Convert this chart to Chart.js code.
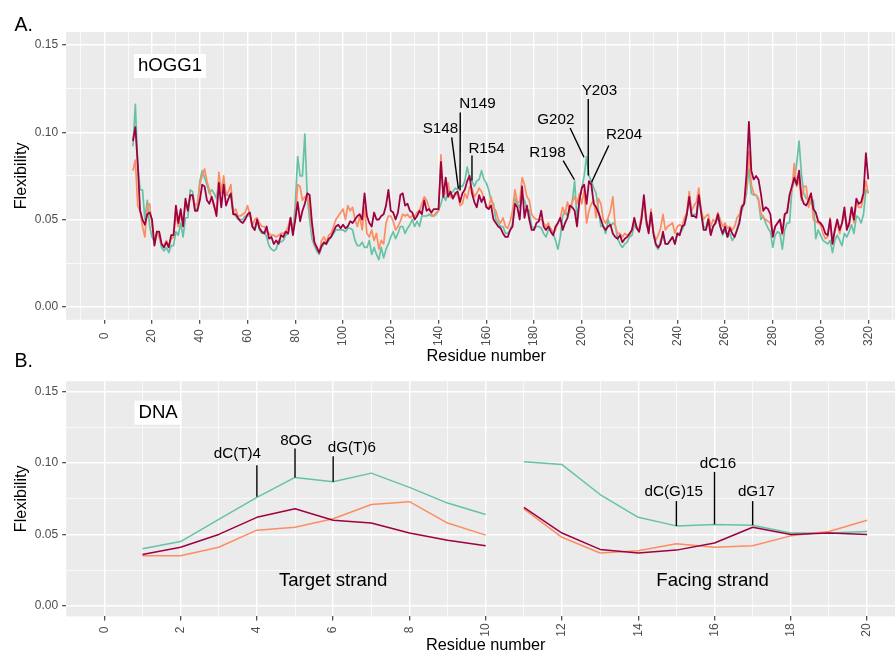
<!DOCTYPE html>
<html>
<head>
<meta charset="utf-8">
<script src="https://cdn.jsdelivr.net/npm/chart.js@4.4.0/dist/chart.umd.min.js"></script>
<style>
  html, body { margin: 0; padding: 0; background: #ffffff; overflow: hidden; }
  #wrap { position: relative; width: 895px; height: 653px; overflow: hidden; background: #ffffff; }
  canvas { position: absolute; left: 0; }
</style>
</head>
<body>
<div id="wrap">
  <canvas id="panelA" width="910" height="370" style="top:0px"></canvas>
  <canvas id="panelB" width="910" height="283" style="top:370px"></canvas>
</div>
<script>
// ---------------- DATA ----------------
// Panel A: hOGG1 residues 12..320
const firstResidue = 12;
const lastResidue = 320;
const residues = Array.from({ length: lastResidue - firstResidue + 1 }, (_, i) => firstResidue + i);

const proteinTeal = [
  0.092,0.116,0.082,0.067,0.067,0.050,0.061,0.046,0.040,0.037,0.043,0.040,0.034,0.032,0.034,0.031,0.035,0.035,0.043,0.041,0.048,0.040,0.051,0.051,0.067,0.066,0.056,0.056,0.072,0.078,0.074,0.070,0.065,
  0.067,0.065,0.062,0.072,0.068,0.073,0.064,0.064,0.064,0.054, 0.052,0.050,0.050,0.050,0.052,0.052,0.053,0.046,0.044,0.049,
  0.044,0.042,0.043,0.040,0.035,0.033,0.032,0.033,0.038,0.037, 0.038,0.041,0.042,0.050,0.042,0.059,0.086,0.075,0.075,0.099,
  0.063,0.050,0.039,0.035,0.032,0.030,0.034,0.036,0.036,0.038, 0.040,0.042,0.044,0.044,0.044,0.044,0.043,0.045,
  0.045,0.044,0.038,0.035,0.035,0.037,0.034,0.034,0.038,0.030, 0.034,0.030,0.027,0.034,0.028,0.033,0.036,0.040,0.043,0.039,
  0.042,0.046,0.046,0.042,0.045,0.047,0.050,0.046,0.049,0.046, 0.052,0.052,0.052,0.053,0.052,0.052,0.053,0.055,0.059,0.064,
  0.061,0.067,0.065,0.066,0.068,0.067,0.069,0.069,0.072,0.080, 0.074,0.072,0.069,0.072,0.073,0.078,0.073,0.071,0.067,
  0.061,0.059,0.050,0.048,0.046,0.046,0.042,0.042,0.044,0.048, 0.062,0.059,0.057,0.064,0.061,0.056,0.055,0.046,0.045,0.046,
  0.046,0.045,0.042,0.040,0.044,0.045,0.042,0.038,0.033,0.040, 0.052,0.055,0.052,0.055,0.060,0.072,0.050,0.061,0.068,0.075,
  0.086,0.075,0.072,0.068,0.065,0.055,0.046,0.046,0.042,0.050, 0.046,0.048,0.047,0.039,0.036,0.034,0.036,0.037,
  0.040,0.041,0.047,0.045,0.043,0.051,0.061,0.047,0.043,0.053, 0.042,0.035,0.033,0.038,0.041,0.036,0.036,0.038,0.040,0.036,
  0.042,0.042,0.044,0.047,0.053,0.064,0.053,0.053,0.053,0.065, 0.055,0.046,0.045,0.051,0.042,0.046,0.048,0.051,0.046,0.041,
  0.044,0.040,0.042,0.038,0.040,0.044,0.050,0.055,0.059,0.065, 0.079,0.065,0.064,0.064,0.061,0.050,0.052,0.048,0.045,0.043,
  0.034,0.041,0.043,0.042,0.033,0.044,0.048,0.048,0.067,0.072, 0.082,0.095,0.076,0.065,0.062,0.062,0.059,0.061,0.039,0.044,
  0.041,0.038,0.037,0.036,0.038,0.031,0.038,0.041,0.038,0.035, 0.042,0.040,0.043,0.047,0.042,0.052,0.051,0.048,0.053,0.067,0.065
];

const proteinOrange = [
  0.078,0.084,0.058,0.055,0.046,0.040,0.058,0.059,0.046,0.036,0.042,0.040,0.036,0.035,0.038,0.035,0.039,0.040,0.053,0.046,0.053,0.048,0.059,0.056,0.063,0.064,0.058,0.059,0.070,0.075,0.079,0.072,0.067,
  0.062,0.057,0.055,0.077,0.065,0.075,0.064,0.066,0.070,0.054, 0.056,0.052,0.052,0.053,0.054,0.058,0.052,0.046,0.050,0.051,
  0.048,0.046,0.046,0.043,0.042,0.041,0.041,0.040,0.041,0.042, 0.042,0.043,0.046,0.051,0.044,0.050,0.070,0.069,0.061,0.063,
  0.064,0.056,0.045,0.036,0.034,0.031,0.038,0.040,0.037,0.041, 0.042,0.046,0.050,0.052,0.054,0.056,0.050,0.058,
  0.055,0.057,0.050,0.046,0.052,0.044,0.057,0.042,0.040,0.044, 0.038,0.042,0.033,0.038,0.036,0.048,0.052,0.052,0.049,0.044,
  0.046,0.049,0.053,0.052,0.053,0.051,0.052,0.052,0.054,0.055, 0.059,0.063,0.061,0.057,0.053,0.052,0.054,0.055,0.087,0.064,
  0.065,0.071,0.063,0.062,0.064,0.065,0.058,0.059,0.065,0.062, 0.069,0.068,0.063,0.065,0.068,0.066,0.062,0.058,0.056,
  0.063,0.057,0.055,0.050,0.048,0.051,0.046,0.045,0.049,0.055, 0.067,0.060,0.060,0.074,0.070,0.063,0.061,0.053,0.051,0.050,
  0.050,0.050,0.048,0.046,0.048,0.044,0.042,0.044,0.048,0.051, 0.057,0.053,0.060,0.055,0.060,0.063,0.059,0.065,0.059,0.067,
  0.048,0.055,0.059,0.061,0.051,0.062,0.059,0.050,0.048,0.051, 0.055,0.063,0.046,0.042,0.042,0.040,0.042,0.041,
  0.041,0.044,0.049,0.046,0.044,0.053,0.060,0.048,0.044,0.056, 0.043,0.038,0.041,0.045,0.053,0.044,0.046,0.047,0.048,0.042,
  0.046,0.047,0.046,0.051,0.054,0.066,0.055,0.058,0.060,0.068, 0.055,0.050,0.052,0.053,0.046,0.050,0.048,0.054,0.050,0.046,
  0.048,0.045,0.046,0.044,0.046,0.051,0.053,0.058,0.059,0.068, 0.089,0.070,0.065,0.064,0.062,0.054,0.051,0.050,0.049,0.048,
  0.042,0.046,0.048,0.050,0.041,0.053,0.055,0.063,0.067,0.082, 0.069,0.073,0.061,0.069,0.069,0.057,0.065,0.050,0.049,0.048,
  0.047,0.042,0.039,0.040,0.051,0.036,0.044,0.048,0.042,0.048, 0.053,0.048,0.046,0.057,0.048,0.060,0.057,0.057,0.063,0.072,0.065
];

const proteinCrimson = [
  0.095,0.103,0.082,0.055,0.050,0.047,0.053,0.054,0.050,0.035,0.043,0.043,0.036,0.034,0.037,0.034,0.041,0.041,0.058,0.048,0.056,0.046,0.062,0.055,0.064,0.064,0.055,0.055,0.061,0.070,0.069,0.061,0.059,
  0.063,0.058,0.052,0.071,0.057,0.070,0.058,0.062,0.065,0.053, 0.053,0.051,0.049,0.048,0.050,0.053,0.054,0.046,0.044,0.050,
  0.045,0.043,0.042,0.046,0.039,0.040,0.036,0.038,0.036,0.041, 0.040,0.043,0.042,0.051,0.041,0.050,0.060,0.049,0.055,0.059,
  0.065,0.064,0.048,0.037,0.034,0.031,0.035,0.037,0.036,0.039, 0.040,0.043,0.046,0.047,0.045,0.047,0.045,0.046,
  0.049,0.048,0.050,0.052,0.053,0.050,0.065,0.052,0.048,0.046, 0.054,0.050,0.050,0.052,0.053,0.058,0.067,0.055,0.054,0.050,
  0.054,0.064,0.065,0.058,0.059,0.055,0.054,0.050,0.052,0.055, 0.053,0.061,0.055,0.056,0.054,0.056,0.056,0.056,0.083,0.063,
  0.074,0.063,0.066,0.062,0.065,0.066,0.060,0.065,0.067,0.072, 0.075,0.065,0.060,0.057,0.064,0.060,0.063,0.057,0.056,
  0.058,0.050,0.048,0.046,0.045,0.042,0.040,0.040,0.044,0.046, 0.059,0.057,0.050,0.069,0.051,0.058,0.050,0.044,0.044,0.048,
  0.049,0.055,0.046,0.044,0.046,0.043,0.041,0.046,0.048,0.051, 0.044,0.048,0.051,0.058,0.057,0.055,0.046,0.061,0.068,0.070,
  0.059,0.072,0.070,0.059,0.057,0.054,0.050,0.046,0.044,0.046, 0.047,0.042,0.040,0.039,0.041,0.037,0.039,0.040,
  0.042,0.044,0.051,0.045,0.043,0.050,0.064,0.050,0.042,0.054, 0.042,0.036,0.034,0.036,0.043,0.036,0.036,0.038,0.040,0.036,
  0.042,0.041,0.046,0.047,0.053,0.063,0.052,0.052,0.051,0.064, 0.054,0.044,0.044,0.050,0.041,0.046,0.048,0.053,0.046,0.042,
  0.046,0.040,0.045,0.042,0.040,0.044,0.048,0.057,0.059,0.076, 0.106,0.078,0.073,0.075,0.073,0.065,0.055,0.057,0.056,0.053,
  0.040,0.046,0.048,0.050,0.042,0.053,0.054,0.064,0.069,0.074, 0.070,0.078,0.063,0.059,0.058,0.061,0.065,0.056,0.054,0.049,
  0.048,0.046,0.042,0.041,0.050,0.036,0.044,0.050,0.044,0.048, 0.057,0.044,0.048,0.057,0.050,0.062,0.059,0.060,0.065,0.088,0.073
];

// Panel B: DNA nucleotides (target strand 1..10, facing strand 11..20)
const targetStrand = [1,2,3,4,5,6,7,8,9,10];
const facingStrand = [11,12,13,14,15,16,17,18,19,20];
const dnaTeal     = [0.040,0.045,0.0605,0.076,0.090,0.087,0.093,0.083,0.072,0.064,  0.101,0.099,0.078,0.062,0.056,0.057,0.0565,0.051,0.051,0.052];
const dnaOrange   = [0.035,0.035,0.041,0.053,0.055,0.061,0.071,0.073,0.058,0.0495,  0.068,0.048,0.037,0.0385,0.0435,0.041,0.042,0.049,0.052,0.060];
const dnaCrimson  = [0.036,0.041,0.050,0.062,0.068,0.060,0.058,0.051,0.046,0.042,   0.069,0.051,0.0395,0.037,0.039,0.044,0.055,0.050,0.051,0.050];

// Tick labels
const proteinTicks = [0,20,40,60,80,100,120,140,160,180,200,220,240,260,280,300,320];
const dnaTicks = [0,2,4,6,8,10,12,14,16,18,20];
const flexTicks = [0.00, 0.05, 0.10, 0.15];

// Annotations (data coordinates)
const proteinCallouts = [
  { text: 'S148', tx: 140.8, ty: 0.1020, x1: 145.5, y1: 0.0971, x2: 148.3, y2: 0.0677 },
  { text: 'N149', tx: 156.3, ty: 0.1162, x1: 149.1, y1: 0.1114, x2: 149.0, y2: 0.0667 },
  { text: 'R154', tx: 160.1, ty: 0.0907, x1: 154.0, y1: 0.0867, x2: 154.0, y2: 0.0724 },
  { text: 'R198', tx: 185.6, ty: 0.0881, x1: 192.2, y1: 0.0838, x2: 196.9, y2: 0.0728 },
  { text: 'G202', tx: 189.1, ty: 0.1073, x1: 195.1, y1: 0.1025, x2: 200.9, y2: 0.0857 },
  { text: 'Y203', tx: 207.4, ty: 0.1238, x1: 202.7, y1: 0.1191, x2: 202.7, y2: 0.0753 },
  { text: 'R204', tx: 217.7, ty: 0.0987, x1: 211.3, y1: 0.0924, x2: 204.1, y2: 0.0714 }
];
const proteinNotes = [ { text: 'hOGG1', x: 27.5, y: 0.1380, box: true } ];

const dnaCallouts = [
  { text: 'dC(T)4',  tx: 3.49,  ty: 0.1063, x1: 4,  y1: 0.0986, x2: 4,  y2: 0.0764 },
  { text: '8OG',     tx: 5.03,  ty: 0.1155, x1: 5,  y1: 0.1103, x2: 5,  y2: 0.0900 },
  { text: 'dG(T)6',  tx: 6.49,  ty: 0.1109, x1: 6,  y1: 0.1049, x2: 6,  y2: 0.0869 },
  { text: 'dC(G)15', tx: 14.93, ty: 0.0797, x1: 15, y1: 0.0734, x2: 15, y2: 0.0559 },
  { text: 'dC16',    tx: 16.09, ty: 0.0993, x1: 16, y1: 0.0939, x2: 16, y2: 0.0571 },
  { text: 'dG17',    tx: 17.10, ty: 0.0797, x1: 17, y1: 0.0734, x2: 17, y2: 0.0566 }
];
const dnaNotes = [
  { text: 'DNA', x: 1.41, y: 0.1354, box: true },
  { text: 'Target strand', x: 6.0, y: 0.0173, box: false },
  { text: 'Facing strand', x: 15.95, y: 0.0173, box: false }
];

// ---------------- STYLE ----------------
const FONT = '"Liberation Sans", Arial, Helvetica, sans-serif';
const TEAL = '#66C2A5', ORANGE = '#FC8D62', CRIMSON = '#9E0142';
const PANEL_BG = '#EBEBEB';

if (proteinTeal.length !== residues.length || proteinOrange.length !== residues.length || proteinCrimson.length !== residues.length) {
  console.error('length mismatch', proteinTeal.length, proteinOrange.length, proteinCrimson.length, residues.length);
}

const near = (a, b) => Math.abs(a - b) < 1e-9;
const isMajor = (v, list) => list.some(t => near(t, v));

const panelBackground = {
  id: 'panelBackground',
  beforeDraw(chart) {
    const { ctx, chartArea: a } = chart;
    ctx.save();
    ctx.fillStyle = PANEL_BG;
    ctx.fillRect(a.left, a.top, a.right - a.left, a.bottom - a.top);
    ctx.restore();
  }
};

function decorPlugin(cfg) {
  return {
    id: 'decor',
    afterDatasetsDraw(chart) {
      const ctx = chart.ctx, xs = chart.scales.x, ys = chart.scales.y;
      ctx.save();
      ctx.strokeStyle = '#000000';
      ctx.lineWidth = 1.4;
      ctx.lineCap = 'butt';
      cfg.callouts.forEach(c => {
        ctx.beginPath();
        ctx.moveTo(xs.getPixelForValue(c.x1), ys.getPixelForValue(c.y1));
        ctx.lineTo(xs.getPixelForValue(c.x2), ys.getPixelForValue(c.y2));
        ctx.stroke();
      });
      ctx.fillStyle = '#000000';
      ctx.textAlign = 'center';
      ctx.textBaseline = 'middle';
      ctx.font = '15.2px ' + FONT;
      cfg.callouts.forEach(c => {
        ctx.fillText(c.text, xs.getPixelForValue(c.tx), ys.getPixelForValue(c.ty));
      });
      ctx.font = '18.6px ' + FONT;
      cfg.notes.forEach(n => {
        const px = xs.getPixelForValue(n.x), py = ys.getPixelForValue(n.y);
        if (n.box) {
          const w = ctx.measureText(n.text).width;
          ctx.fillStyle = '#ffffff';
          ctx.fillRect(px - w / 2 - 4, py - 12, w + 8, 24);
        }
        ctx.fillStyle = '#000000';
        ctx.fillText(n.text, px, py);
      });
      ctx.restore();
    },
    afterDraw(chart) {
      const ctx = chart.ctx, xs = chart.scales.x, a = chart.chartArea;
      ctx.save();
      // rotated x tick labels
      ctx.fillStyle = '#4D4D4D';
      ctx.font = '12px ' + FONT;
      ctx.textAlign = 'center';
      ctx.textBaseline = 'middle';
      cfg.xTicks.forEach(v => {
        const px = xs.getPixelForValue(v);
        ctx.save();
        ctx.translate(px, cfg.tickLabelY);
        ctx.rotate(-Math.PI / 2);
        ctx.fillText(String(v), 0, 0);
        ctx.restore();
      });
      // axis titles
      ctx.fillStyle = '#000000';
      ctx.font = '16.3px ' + FONT;
      ctx.fillText('Residue number', (a.left + a.right) / 2, cfg.xTitleY);
      ctx.save();
      ctx.translate(21.5, (a.top + a.bottom) / 2);
      ctx.rotate(-Math.PI / 2);
      ctx.fillText('Flexibility', 0, 0);
      ctx.restore();
      // panel letters
      ctx.font = '19.5px ' + FONT;
      ctx.textAlign = 'left';
      cfg.letters.forEach(l => ctx.fillText(l.text, l.x, l.y));
      ctx.restore();
    }
  };
}

function makeScales(xmin, xmax, xGrid, xMajor, ymin, ymax, yGrid, yMajor, yAxisWidth, xAxisHeight) {
  return {
    x: {
      type: 'linear', min: xmin, max: xmax,
      afterBuildTicks: s => { s.ticks = xGrid.map(v => ({ value: v })); },
      afterFit: s => { s.height = xAxisHeight; },
      border: { display: false },
      grid: {
        color: '#ffffff',
        lineWidth: c => (c.tick && isMajor(c.tick.value, xMajor)) ? 1.4 : 0.7,
        drawTicks: true, tickLength: 4,
        tickColor: c => (c.tick && isMajor(c.tick.value, xMajor)) ? '#333333' : 'rgba(0,0,0,0)',
        tickWidth: 1.1
      },
      ticks: { display: false }
    },
    y: {
      type: 'linear', min: ymin, max: ymax,
      afterBuildTicks: s => { s.ticks = yGrid.map(v => ({ value: v })); },
      afterFit: s => { s.width = yAxisWidth; },
      border: { display: false },
      grid: {
        color: '#ffffff',
        lineWidth: c => (c.tick && isMajor(c.tick.value, yMajor)) ? 1.4 : 0.7,
        drawTicks: true, tickLength: 4,
        tickColor: c => (c.tick && isMajor(c.tick.value, yMajor)) ? '#333333' : 'rgba(0,0,0,0)',
        tickWidth: 1.1
      },
      ticks: {
        autoSkip: false, padding: 4, color: '#4D4D4D',
        font: { family: FONT, size: 12 },
        callback: v => isMajor(v, yMajor) ? Number(v).toFixed(2) : ''
      }
    }
  };
}

const flexGrid = [0, 0.025, 0.05, 0.075, 0.10, 0.125, 0.15];

// ---------------- PANEL A ----------------
const proteinGrid = [];
for (let v = -10; v <= 330; v += 10) proteinGrid.push(v);

const lineDs = (label, xs, ys, color, order, width) => ({
  label, data: xs.map((x, i) => ({ x, y: ys[i] })),
  borderColor: color, backgroundColor: color, borderWidth: width,
  pointRadius: 0, tension: 0, borderJoinStyle: 'round', order, spanGaps: false
});

new Chart(document.getElementById('panelA'), {
  type: 'line',
  data: {
    datasets: [
      lineDs('Teal', residues, proteinTeal, TEAL, 3, 1.7),
      lineDs('Orange', residues, proteinOrange, ORANGE, 2, 1.7),
      lineDs('Crimson', residues, proteinCrimson, CRIMSON, 1, 1.8)
    ]
  },
  options: {
    responsive: false, animation: false, devicePixelRatio: 1, events: [],
    layout: { padding: { top: 32, right: 3.5, left: 0, bottom: 0 } },
    plugins: { legend: { display: false }, tooltip: { enabled: false }, title: { display: false } },
    scales: makeScales(-16, 336, proteinGrid, proteinTicks, -0.0075, 0.1575, flexGrid, flexTicks, 66.1, 50.2)
  },
  plugins: [panelBackground, decorPlugin({
    callouts: proteinCallouts, notes: proteinNotes, xTicks: proteinTicks,
    tickLabelY: 336, xTitleY: 356.5,
    letters: [{ text: 'A.', x: 14.5, y: 26 }, { text: 'B.', x: 14.5, y: 361.5 }]
  })]
});

// ---------------- PANEL B ----------------
const dnaGrid = [];
for (let v = 0; v <= 20; v += 1) dnaGrid.push(v);

const strandPoints = (vals) => {
  const pts = targetStrand.map((x, i) => ({ x, y: vals[i] }));
  pts.push({ x: 10.5, y: null });
  facingStrand.forEach((x, i) => pts.push({ x, y: vals[targetStrand.length + i] }));
  return pts;
};
const dnaDs = (label, vals, color, order) => ({
  label, data: strandPoints(vals),
  borderColor: color, backgroundColor: color, borderWidth: 1.5,
  pointRadius: 0, tension: 0, borderJoinStyle: 'round', order, spanGaps: false
});

new Chart(document.getElementById('panelB'), {
  type: 'line',
  data: {
    datasets: [
      dnaDs('Teal', dnaTeal, TEAL, 3),
      dnaDs('Orange', dnaOrange, ORANGE, 2),
      dnaDs('Crimson', dnaCrimson, CRIMSON, 1)
    ]
  },
  options: {
    responsive: false, animation: false, devicePixelRatio: 1, events: [],
    layout: { padding: { top: 11.2, right: 4.8, left: 0, bottom: 0 } },
    plugins: { legend: { display: false }, tooltip: { enabled: false }, title: { display: false } },
    scales: makeScales(-1, 21, dnaGrid, dnaTicks, -0.0075, 0.1575, flexGrid, flexTicks, 66.2, 36.6)
  },
  plugins: [panelBackground, decorPlugin({
    callouts: dnaCallouts, notes: dnaNotes, xTicks: dnaTicks,
    tickLabelY: 260, xTitleY: 276,
    letters: []
  })]
});
</script>
</body>
</html>
